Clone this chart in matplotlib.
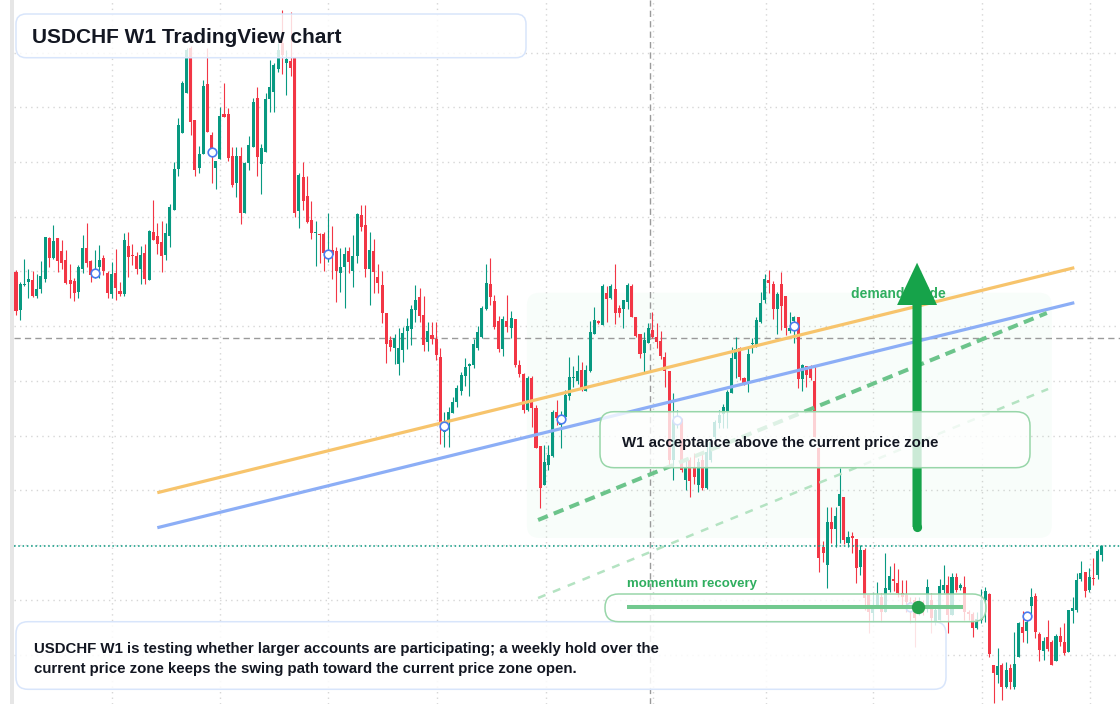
import numpy as np
import matplotlib
matplotlib.use("Agg")
import matplotlib.pyplot as plt
from matplotlib.patches import FancyBboxPatch, Rectangle
from matplotlib.transforms import Affine2D

# ---------------- data (USDCHF weekly, prices in pips / 10000) ----------------
open_pips = [
    9456, 9380, 9430, 9436, 9440, 9408, 9422, 9442, 9524, 9484,
    9524, 9498, 9480, 9440, 9438, 9416, 9462, 9504, 9478, 9450,
    9466, 9484, 9454, 9412, 9454, 9418, 9412, 9508, 9490, 9488,
    9462, 9494, 9440, 9536, 9528, 9516, 9490, 9528, 9580, 9662,
    9734, 9814, 9904, 9760, 9664, 9692, 9832, 9730, 9664, 9682,
    9772, 9772, 9688, 9634, 9688, 9574, 9674, 9706, 9804, 9672,
    9696, 9802, 9816, 9862, 9914, 9874, 9878, 9884, 9578, 9646,
    9608, 9560, 9534, 9532, 9532, 9484, 9500, 9498, 9454, 9466,
    9498, 9458, 9488, 9570, 9550, 9462, 9498, 9446, 9430, 9374,
    9320, 9304, 9272, 9300, 9338, 9342, 9380, 9406, 9370, 9316,
    9330, 9322, 9286, 9136, 9156, 9174, 9196, 9218, 9248, 9268,
    9270, 9304, 9326, 9382, 9432, 9398, 9358, 9302, 9358, 9344,
    9362, 9270, 9252, 9180, 9244, 9184, 9108, 9030, 9070, 9088,
    9176, 9150, 9166, 9208, 9244, 9238, 9260, 9218, 9258, 9332,
    9358, 9350, 9414, 9404, 9422, 9384, 9382, 9396, 9428, 9366,
    9332, 9294, 9314, 9340, 9326, 9318, 9286, 9258, 9080, 9158,
    9160, 9040, 9080, 9064, 9030, 9080, 9024, 9080, 9126, 9154,
    9172, 9176, 9214, 9282, 9304, 9244, 9234, 9312, 9306, 9356,
    9400, 9440, 9432, 9382, 9432, 9408, 9338, 9358, 9366, 9242,
    9268, 9264, 9238, 9104, 8906, 8870, 8956, 8942, 8988, 9006,
    8914, 8928, 8922, 8866, 8900, 8810, 8774, 8786, 8806, 8776,
    8820, 8842, 8834, 8814, 8810, 8796, 8800, 8776, 8790, 8790,
    8800, 8756, 8760, 8820, 8830, 8770, 8846, 8824, 8826, 8776,
    8772, 8744, 8760, 8800, 8812, 8670, 8650, 8670, 8626, 8664,
    8626, 8686, 8746, 8738, 8788, 8808, 8732, 8698, 8726, 8716,
    8678, 8728, 8716, 8696, 8778, 8780, 8842, 8856, 8820, 8844,
    8850, 8890,
]
high_pips = [
    9460, 9436, 9482, 9462, 9458, 9452, 9478, 9526, 9526, 9550,
    9524, 9520, 9500, 9472, 9444, 9470, 9530, 9554, 9480, 9500,
    9510, 9490, 9458, 9476, 9502, 9436, 9534, 9536, 9512, 9496,
    9508, 9512, 9540, 9600, 9554, 9558, 9554, 9592, 9676, 9764,
    9838, 9904, 9908, 9760, 9708, 9840, 9904, 9736, 9678, 9786,
    9834, 9784, 9706, 9706, 9706, 9676, 9728, 9804, 9826, 9712,
    9814, 9880, 9874, 9914, 9980, 9900, 9976, 9884, 9654, 9676,
    9648, 9598, 9558, 9534, 9536, 9574, 9548, 9506, 9504, 9506,
    9506, 9530, 9574, 9590, 9590, 9536, 9522, 9472, 9458, 9374,
    9328, 9332, 9344, 9346, 9364, 9390, 9430, 9424, 9408, 9356,
    9356, 9356, 9304, 9176, 9186, 9206, 9230, 9256, 9284, 9274,
    9322, 9348, 9388, 9472, 9484, 9410, 9368, 9368, 9410, 9378,
    9362, 9280, 9254, 9248, 9248, 9190, 9108, 9110, 9110, 9180,
    9200, 9178, 9220, 9286, 9268, 9290, 9276, 9270, 9358, 9386,
    9360, 9432, 9428, 9432, 9472, 9390, 9400, 9434, 9432, 9366,
    9332, 9336, 9354, 9376, 9354, 9338, 9296, 9258, 9214, 9180,
    9164, 9080, 9086, 9094, 9084, 9094, 9120, 9124, 9160, 9180,
    9192, 9220, 9306, 9326, 9306, 9246, 9306, 9324, 9366, 9416,
    9452, 9460, 9438, 9416, 9456, 9408, 9376, 9368, 9366, 9272,
    9268, 9270, 9270, 9104, 8918, 8986, 8986, 8986, 9064, 9006,
    8938, 8936, 8922, 8910, 8904, 8810, 8814, 8836, 8814, 8894,
    8868, 8874, 8862, 8840, 8840, 8806, 8806, 8806, 8800, 8842,
    8814, 8790, 8842, 8870, 8848, 8854, 8854, 8834, 8848, 8780,
    8776, 8776, 8822, 8826, 8814, 8670, 8704, 8674, 8676, 8672,
    8736, 8756, 8778, 8770, 8824, 8814, 8736, 8726, 8760, 8720,
    8732, 8746, 8754, 8780, 8806, 8854, 8878, 8856, 8864, 8884,
    8902, 8910,
]
low_pips = [
    9370, 9360, 9428, 9404, 9406, 9404, 9414, 9436, 9466, 9482,
    9456, 9462, 9432, 9404, 9398, 9404, 9454, 9466, 9436, 9444,
    9444, 9450, 9404, 9404, 9400, 9408, 9408, 9446, 9470, 9452,
    9432, 9432, 9440, 9520, 9492, 9456, 9480, 9506, 9580, 9648,
    9734, 9814, 9730, 9648, 9654, 9692, 9736, 9634, 9622, 9682,
    9766, 9678, 9626, 9606, 9552, 9574, 9660, 9706, 9648, 9612,
    9696, 9776, 9776, 9856, 9852, 9810, 9848, 9566, 9544, 9580,
    9554, 9522, 9468, 9474, 9458, 9476, 9442, 9396, 9416, 9384,
    9454, 9426, 9474, 9538, 9446, 9390, 9414, 9414, 9354, 9274,
    9298, 9272, 9250, 9276, 9302, 9310, 9356, 9356, 9298, 9298,
    9312, 9280, 9112, 9106, 9106, 9174, 9186, 9210, 9228, 9208,
    9264, 9300, 9324, 9380, 9390, 9342, 9296, 9288, 9336, 9324,
    9266, 9246, 9174, 9178, 9146, 9104, 8984, 9030, 9060, 9086,
    9150, 9104, 9164, 9200, 9226, 9232, 9218, 9218, 9256, 9332,
    9352, 9350, 9356, 9402, 9352, 9366, 9344, 9382, 9366, 9326,
    9284, 9254, 9314, 9324, 9304, 9282, 9226, 9070, 9040, 9144,
    9056, 9020, 9006, 9032, 9016, 9020, 9022, 9076, 9120, 9144,
    9144, 9144, 9214, 9244, 9240, 9230, 9216, 9294, 9306, 9354,
    9394, 9414, 9362, 9332, 9340, 9330, 9334, 9314, 9224, 9218,
    9226, 9240, 9126, 8856, 8876, 8824, 8914, 8906, 8914, 8912,
    8906, 8894, 8834, 8850, 8780, 8734, 8756, 8786, 8756, 8776,
    8816, 8818, 8806, 8790, 8776, 8754, 8706, 8770, 8770, 8776,
    8734, 8750, 8760, 8814, 8734, 8770, 8816, 8820, 8760, 8760,
    8726, 8742, 8754, 8756, 8686, 8594, 8634, 8600, 8624, 8622,
    8622, 8686, 8716, 8714, 8768, 8724, 8678, 8680, 8698, 8670,
    8678, 8708, 8690, 8696, 8754, 8776, 8838, 8806, 8816, 8830,
    8842, 8878,
]
close_pips = [
    9378, 9432, 9432, 9442, 9408, 9422, 9448, 9526, 9484, 9518,
    9478, 9474, 9434, 9432, 9414, 9466, 9504, 9474, 9450, 9456,
    9480, 9458, 9414, 9452, 9424, 9412, 9520, 9486, 9488, 9462,
    9490, 9442, 9538, 9520, 9512, 9488, 9534, 9586, 9662, 9750,
    9834, 9900, 9756, 9660, 9692, 9828, 9736, 9690, 9678, 9768,
    9766, 9684, 9630, 9688, 9574, 9674, 9710, 9796, 9686, 9704,
    9802, 9826, 9870, 9900, 9890, 9882, 9864, 9574, 9650, 9598,
    9556, 9534, 9536, 9530, 9494, 9494, 9490, 9458, 9466, 9492,
    9476, 9488, 9572, 9546, 9462, 9500, 9456, 9434, 9374, 9312,
    9306, 9324, 9304, 9334, 9348, 9382, 9400, 9368, 9310, 9338,
    9322, 9290, 9154, 9150, 9176, 9196, 9224, 9250, 9266, 9272,
    9312, 9336, 9384, 9434, 9406, 9346, 9302, 9362, 9346, 9364,
    9270, 9252, 9180, 9244, 9184, 9104, 9024, 9076, 9090, 9176,
    9164, 9164, 9210, 9246, 9246, 9258, 9220, 9260, 9336, 9360,
    9354, 9428, 9402, 9428, 9374, 9374, 9400, 9430, 9366, 9328,
    9292, 9320, 9344, 9326, 9316, 9288, 9258, 9080, 9160, 9162,
    9060, 9064, 9038, 9046, 9076, 9024, 9096, 9116, 9156, 9170,
    9186, 9216, 9284, 9302, 9246, 9232, 9292, 9314, 9360, 9394,
    9442, 9434, 9382, 9412, 9388, 9344, 9344, 9366, 9242, 9270,
    9250, 9244, 9126, 8884, 8894, 8956, 8942, 8968, 9012, 8920,
    8926, 8924, 8864, 8900, 8804, 8776, 8790, 8810, 8776, 8824,
    8848, 8838, 8814, 8806, 8796, 8776, 8764, 8794, 8780, 8826,
    8764, 8780, 8828, 8830, 8770, 8846, 8820, 8830, 8776, 8772,
    8744, 8762, 8800, 8818, 8692, 8654, 8668, 8626, 8660, 8636,
    8672, 8754, 8734, 8756, 8806, 8736, 8700, 8718, 8702, 8670,
    8728, 8716, 8694, 8780, 8784, 8840, 8854, 8818, 8846, 8842,
    8898, 8908,
]

marker_idx = [19, 47, 75, 103, 131, 159, 187, 215, 243]
marker_pips = [9455, 9697, 9493, 9149, 9163, 9161, 9349, 8786, 8768]

grid_x = [23.1, 49.1, 75.1, 101.1, 127.3, 153.2, 180.2, 206.1, 232.3, 258.2]
grid_y_pips = [9895, 9786, 9676, 9567, 9458, 9348, 9239, 9129, 9020, 8910, 8801, 8691]

ref_level = 0.9324          # grey dashed horizontal
ref_bar = 152.3             # grey dashed vertical (bar index)

trend_x = [33.97, 254.4]
orange_y = [0.90146, 0.94646]
blue_y = [0.89446, 0.93946]
guide_x = [125.5, 247.8]
guide_y = [0.8960, 0.9374]
lower_x = [125.5, 248.1]
lower_y = [0.8804, 0.9222]

zone_x = [122.8, 249.0]
zone_y = [0.8924, 0.94146]

arrow_bar = 216.6
arrow_from = 0.8946
arrow_to = 0.94746

title = "USDCHF W1 TradingView chart"
note_lines = ["USDCHF W1 is testing whether larger accounts are participating; a weekly hold over the",
              "current price zone keeps the swing path toward the current price zone open."]
box_text = "W1 acceptance above the current price zone"
guide_label = "demand guide"
momentum_label = "momentum recovery"

# ---------------- styling ----------------
W, H = 1120, 704
UP, DOWN = "#089981", "#f23645"
TXT = "#131722"
GLAB = "#2fae5f"
FONT = ["Liberation Sans", "DejaVu Sans"]

o = np.array(open_pips) / 1e4
h = np.array(high_pips) / 1e4
l = np.array(low_pips) / 1e4
c = np.array(close_pips) / 1e4
idx = np.arange(len(o))

fig = plt.figure(figsize=(W / 100, H / 100), dpi=100, facecolor="white")
ax = fig.add_axes([14 / W, 0, (W - 14) / W, 1])
ax.set_axis_off()
ax.set_xlim((14 - 16) / 4.16, (W - 16) / 4.16)
ax.set_ylim((10000 - 2 * H) / 1e4, 1.0)

# pixel transform (x right, y down, origin top-left)
PX = Affine2D().scale(1 / W, -1 / H).translate(0, 1) + fig.transFigure

fig.add_artist(Rectangle((10 / W, 0), 4 / W, 1, transform=fig.transFigure,
                         facecolor="#e6e6e6", edgecolor="none"))

# grid
for gx in grid_x:
    ax.axvline(gx, color="#d6d6d6", lw=1.0, ls=(0, (1, 3)), zorder=0.5)
for gy in grid_y_pips:
    ax.axhline(gy / 1e4, color="#d6d6d6", lw=1.0, ls=(0, (1, 3)), zorder=0.5)

# zone
zone = FancyBboxPatch((zone_x[0], zone_y[0]), zone_x[1] - zone_x[0], zone_y[1] - zone_y[0],
                      boxstyle="round,pad=0,rounding_size=3", mutation_aspect=0.000832,
                      facecolor=(0.13, 0.77, 0.37, 0.028), edgecolor="none", zorder=1)
ax.add_patch(zone)

# reference dashed lines
ax.axhline(ref_level, color="#9a9a9a", lw=1.0, ls=(0, (4.5, 3)), zorder=1.5)
ax.axvline(ref_bar, color="#9a9a9a", lw=1.0, ls=(0, (4.5, 3)), zorder=1.5)

# candles
cols = np.where(c >= o, UP, DOWN)
ax.vlines(idx, l, h, colors=cols, lw=0.8, zorder=2)
body_lo = np.minimum(o, c)
body_h = np.maximum(np.abs(c - o), 0.0003)
ax.bar(idx, body_h, bottom=body_lo, width=0.74, color=cols, linewidth=0, zorder=2.1)

# current price line
ax.axhline(c[-1], color=UP, lw=1.1, ls=(0, (1, 1.8)), zorder=2.5)

# trend lines
ax.plot(trend_x, orange_y, color="#f7c46c", lw=2.3, solid_capstyle="butt", zorder=3)
ax.plot(trend_x, blue_y, color="#8caef6", lw=2.3, solid_capstyle="butt", zorder=3)
ax.plot(guide_x, guide_y, color="#6cc48b", lw=2.9, ls=(0, (2.6, 1.6)), zorder=3)
ax.plot(lower_x, lower_y, color="#b4e3c2", lw=1.8, ls=(0, (3.2, 3.2)), zorder=3)

# markers
ax.plot(marker_idx, np.array(marker_pips) / 1e4, "o", ms=6.2, mfc="white", mec="#4a7bf0",
        mew=1.2, zorder=4)

# demand guide label + arrow
ax.text(851, 298.3, guide_label, transform=PX, fontsize=10, fontweight="bold", color=GLAB,
        family=FONT, va="baseline", ha="left", zorder=5)
ax.arrow(arrow_bar, arrow_from, 0, arrow_to - arrow_from, width=2.2, head_width=9.6,
         head_length=0.00846, length_includes_head=True, color="#16a34a", lw=0, zorder=6)
ax.plot([arrow_bar], [arrow_from], "o", ms=6.6, color="#16a34a", mew=0, zorder=6)


def rbox(x0, y0, x1, y1, r, fc, ec, z):
    p = FancyBboxPatch((x0, y0), x1 - x0, y1 - y0, boxstyle=f"round,pad=0,rounding_size={r}",
                       transform=PX, facecolor=fc, edgecolor=ec, lw=1.1, zorder=z, clip_on=False)
    ax.add_patch(p)


# boxes
rbox(16, 14, 526, 57.7, 10, (1, 1, 1, 0.82), "#d8e5fb", 7)
rbox(16, 621.7, 946, 689.3, 12, (1, 1, 1, 0.86), "#d8e5fb", 7)
rbox(600, 411.7, 1030, 467.7, 14, (1, 1, 1, 0.78), "#98d6a9", 7)
rbox(605, 594, 986, 621.7, 13.5, (1, 1, 1, 0.78), "#98d6a9", 7)

# texts
ax.text(32.3, 43.3, title, transform=PX, fontsize=15, fontweight="bold", color=TXT,
        family=FONT, va="baseline", ha="left", zorder=9)
ax.text(34.3, 653.3, note_lines[0], transform=PX, fontsize=10.8, fontweight="bold", color=TXT,
        family=FONT, va="baseline", ha="left", zorder=9)
ax.text(34.3, 673.3, note_lines[1], transform=PX, fontsize=10.8, fontweight="bold", color=TXT,
        family=FONT, va="baseline", ha="left", zorder=9)
ax.text(622.3, 447.3, box_text, transform=PX, fontsize=10.8, fontweight="bold", color=TXT,
        family=FONT, va="baseline", ha="left", zorder=9)
ax.text(627.3, 587.3, momentum_label, transform=PX, fontsize=9.5, fontweight="bold", color=GLAB,
        family=FONT, va="baseline", ha="left", zorder=9)

# momentum gauge
ax.plot([627.3, 962.7], [607.3, 607.3], transform=PX, color="#72c98f", lw=2.9,
        solid_capstyle="butt", zorder=9, clip_on=False)
ax.plot([918.3], [607.3], "o", transform=PX, ms=9.6, color="#25a14d", mew=0, zorder=10,
        clip_on=False)

fig.savefig("out.png", dpi=100, facecolor="white")
